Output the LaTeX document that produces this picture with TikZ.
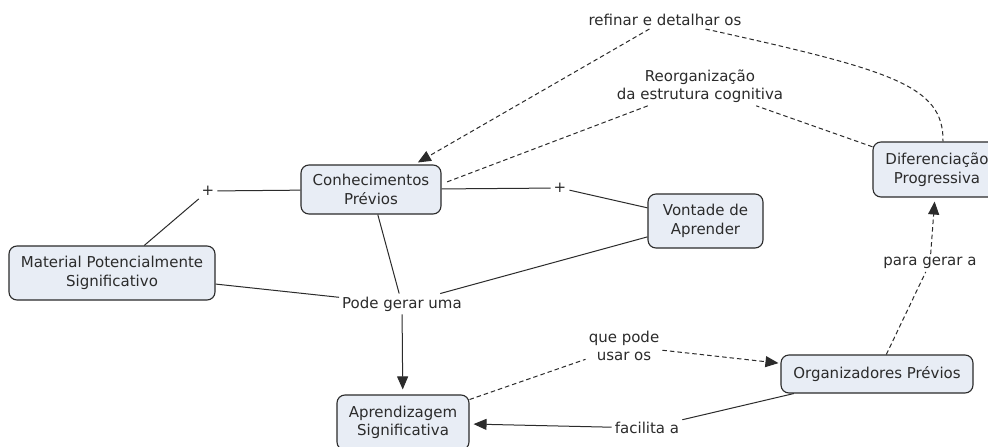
\documentclass[tikz,border=0pt]{standalone}
\usepackage{fontspec}
\setmainfont{DejaVu Sans}
\usetikzlibrary{arrows.meta}
\definecolor{boxfill}{HTML}{E8EDF5}
\definecolor{ink}{HTML}{2B2B2B}
\begin{document}
\begin{tikzpicture}[x=1pt,y=-1pt,
  every node/.style={font=\fontsize{15}{18.5}\selectfont, text=ink},
  concept/.style={draw=ink, fill=boxfill, rounded corners=8pt, line width=1.1pt, align=center, inner sep=0pt},
  linkword/.style={align=center, inner sep=3pt},
  conn/.style={draw=ink, line width=1pt},
  dsh/.style={conn, dash pattern=on 4.5pt off 3pt},
  tip/.style={-{Triangle[length=13pt,width=11pt]}}
]
\useasboundingbox (0,0) rectangle (988,447);
\fill[white] (0,0) rectangle (988,447);
\clip (0,0) rectangle (988,447);

% concepts
\node[concept, minimum width=140pt, minimum height=49pt] (conh) at (371,189.5) {Conhecimentos\\Prévios};
\node[concept, minimum width=206pt, minimum height=54pt] (mat) at (112,273) {Material Potencialmente\\Significativo};
\node[concept, minimum width=115pt, minimum height=54pt] (vont) at (705.5,221) {Vontade de\\Aprender};
\node[concept, minimum width=128pt, minimum height=55pt] (dif) at (937,169.5) {Diferenciação\\Progressiva};
\node[concept, minimum width=192pt, minimum height=38pt] (org) at (877,374) {Organizadores Prévios};
\node[concept, minimum width=132pt, minimum height=55pt] (apr) at (403,422.5) {Aprendizagem\\Significativa};

% linking words
\node[linkword] (plusL) at (208,191) {+};
\node[linkword] (plusR) at (560,188) {+};
\node[linkword] (pode) at (402,304) {Pode gerar uma};
\node[linkword] (refinar) at (665,20) {refinar e detalhar os};
\node[linkword] (reorg) at (700,86) {Reorganização\\da estrutura cognitiva};
\node[linkword] (para) at (930,263) {para gerar a};
\node[linkword] (que) at (624,346) {que pode\\usar os};
\node[linkword] (facil) at (647,428) {facilita a};

% solid connectors
\draw[conn] (mat) -- (plusL);
\draw[conn] (plusL) -- (conh);
\draw[conn] (conh) -- (plusR);
\draw[conn] (plusR) -- (vont);
\draw[conn] (mat) -- (pode);
\draw[conn] (conh) -- (pode);
\draw[conn] (vont) -- (pode);
\draw[conn,tip,shorten >=5pt] (pode) -- (apr);
\draw[conn] (org) -- (facil);
\draw[conn,tip,shorten >=4pt] (facil) -- (apr);

% dashed connectors
\draw[dsh] (apr) -- (que);
\draw[dsh,tip,shorten >=2pt] (que) -- (org);
\draw[dsh] (org) -- (para);
\draw[dsh,tip,shorten >=4pt] (para) -- (dif);
\draw[dsh] (dif) -- (reorg);
\draw[dsh,shorten >=6pt] (reorg) -- ([yshift=5.5pt]conh.east);
\draw[dsh,tip,shorten >=4pt] (refinar) -- (conh);
\draw[dsh] (refinar) .. controls (890,70) and (944,85) .. ([xshift=6pt]dif.north);
\end{tikzpicture}
\end{document}
